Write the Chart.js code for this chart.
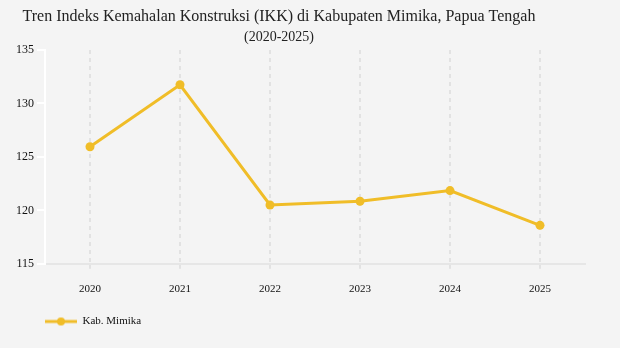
<!DOCTYPE html>
<html>
<head>
<meta charset="utf-8">
<script src="https://cdn.jsdelivr.net/npm/chart.js@4.4.1/dist/chart.umd.min.js"></script>
<style>
  html, body { margin:0; padding:0; background:#f4f4f4; }
  #wrap { width:620px; height:348px; position:relative; }
</style>
</head>
<body>
<div id="wrap"><canvas id="chart-ikk"></canvas></div>
<script>
// data IKK Kab. Mimika
const years = ["2020","2021","2022","2023","2024","2025"];
const ikkMimika = [125.95, 131.75, 120.5, 120.85, 121.85, 118.6];
const yTicks = [115, 120, 125, 130, 135];
const titleLines = ["Tren Indeks Kemahalan Konstruksi (IKK) di Kabupaten Mimika, Papua Tengah", "(2020-2025)"];
const seriesLabel = "Kab. Mimika";

const YELLOW = "#f0bd28";
const SERIF = "'Liberation Serif', 'Times New Roman', serif";

// petit symbole de légende : trait + rond
function legendIcon(){
  const c = document.createElement("canvas");
  c.width = 32; c.height = 10;
  const g = c.getContext("2d");
  g.strokeStyle = YELLOW; g.lineWidth = 3;
  g.beginPath(); g.moveTo(0,5); g.lineTo(32,5); g.stroke();
  g.fillStyle = YELLOW;
  g.beginPath(); g.arc(16,5,4,0,Math.PI*2); g.fill();
  return c;
}

// titre dessiné à la main (centré comme sur l'original)
const titlePlugin = {
  id: "titreIkk",
  afterDraw(chart){
    const ctx = chart.ctx;
    ctx.save();
    ctx.fillStyle = "#222";
    ctx.textAlign = "center";
    ctx.textBaseline = "middle";
    ctx.font = "16px " + SERIF;
    ctx.fillText(titleLines[0], 279, 17);
    ctx.font = "14px " + SERIF;
    ctx.fillText(titleLines[1], 279, 37);
    ctx.restore();
  }
};

new Chart(document.getElementById("chart-ikk").getContext("2d"), {
  type: "line",
  data: {
    labels: years,
    datasets: [{
      label: seriesLabel,
      data: ikkMimika,
      borderColor: YELLOW,
      backgroundColor: YELLOW,
      borderWidth: 3,
      pointRadius: 4.5,
      pointBorderWidth: 0,
      pointHoverRadius: 4.5,
      tension: 0,
      fill: false
    }]
  },
  options: {
    responsive: true,
    maintainAspectRatio: false,
    animation: false,
    layout: { padding: { top: 50, right: 35, left: 0, bottom: 11 } },
    scales: {
      x: {
        offset: true,
        grid: { offset: false, color: "#e2e2e2", lineWidth: 2, tickLength: 5, drawTicks: true },
        border: { color: "#e6e6e6", width: 2, dash: [4,4] },
        ticks: { color: "#111", font: { family: SERIF, size: 11 }, padding: 14 },
        afterFit: (s) => { s.height += 6; }
      },
      y: {
        min: 115, max: 135,
        afterBuildTicks: (s) => { s.ticks = yTicks.map(v => ({ value: v })); },
        grid: { drawOnChartArea: false, color: "#ffffff", lineWidth: 2, tickLength: 8 },
        border: { color: "#ffffff", width: 2 },
        ticks: { color: "#111", font: { family: SERIF, size: 12 }, padding: 3 },
        afterFit: (s) => { s.width = 45; }
      }
    },
    plugins: {
      title: { display: false },
      tooltip: { enabled: false },
      legend: {
        position: "bottom",
        align: "start",
        fullSize: false,
        labels: {
          usePointStyle: true,
          pointStyle: legendIcon(),
          pointStyleWidth: 32,
          padding: 0,
          color: "#111",
          font: { family: SERIF, size: 11 }
        }
      }
    }
  },
  plugins: [titlePlugin]
});
</script>
</body>
</html>
